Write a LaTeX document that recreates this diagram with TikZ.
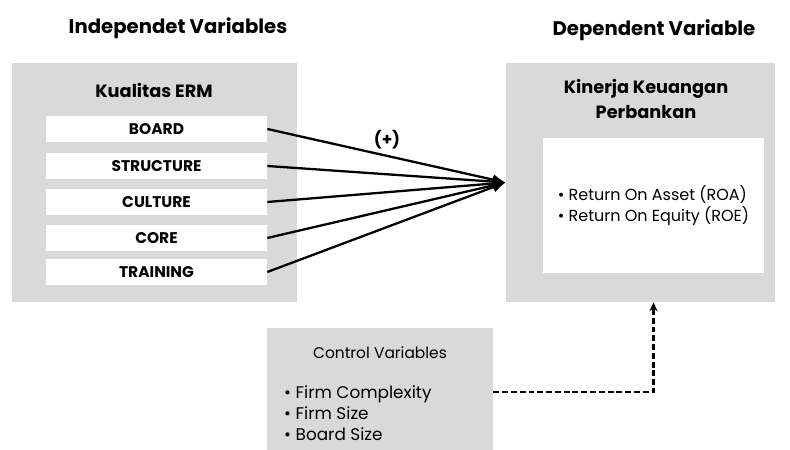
\documentclass[tikz,border=0pt]{standalone}
\usepackage{fontspec}
\setmainfont{Poppins}
\usetikzlibrary{arrows.meta,positioning}
\definecolor{boxgray}{HTML}{D9D9D9}
\tikzset{grp/.style={fill=boxgray,inner sep=0pt},
 itm/.style={fill=white,minimum width=44.2mm,minimum height=5.2mm,inner sep=0pt,font=\fontsize{8.8}{10}\selectfont\bfseries},
 ttl/.style={font=\fontsize{11.2}{13}\selectfont\bfseries,align=center},
 hd/.style={font=\fontsize{10.1}{14.5}\selectfont\bfseries,align=center},
 lst/.style={align=left,font=\fontsize{9.6}{11.9}\selectfont},
 flow/.style={-{Latex[length=2.6mm,width=2.2mm]},line width=1.3pt},
 ctl/.style={-{Stealth[length=1.8mm,width=1.6mm]},dash pattern=on 3.4pt off 1.6pt,line width=1.2pt}}
\begin{document}
\begin{tikzpicture}[x=0.2mm,y=-0.2mm]
\useasboundingbox (0,0) rectangle (790,450);
% titles
\node[ttl] (indt) at (178,28) {Independet Variables};
\node[ttl] (dept) at (654,30) {Dependent Variable};
% left group
\node[grp,minimum width=57mm,minimum height=47.8mm] (indep) at (154.5,182.5) {};
\node[hd] (erm) at (154,90) {Kualitas ERM};
\foreach \n/\t/\y in {brd/BOARD/129,str/STRUCTURE/166,cul/CULTURE/202,cor/CORE/238,trn/TRAINING/272}
 {\node[itm] (\n) at (156.5,\y) {\t};}
% right group
\node[grp,minimum width=53.8mm,minimum height=47.8mm] (dep) at (640.5,182.5) {};
\node[hd] (kin) at (646,99) {Kinerja Keuangan\\Perbankan};
\node[fill=white,minimum width=44.2mm,minimum height=27mm] (res) at (653.5,205.5) {};
\node[lst,font=\fontsize{9.1}{11.9}\selectfont] (roa) at (res) {\textbullet\ Return On Asset (ROA)\\\textbullet\ Return On Equity (ROE)};
% control group
\node[grp,minimum width=45.2mm,minimum height=24.4mm] (ctrl) at (380,389) {};
\node[lst,font=\fontsize{8.8}{10}\selectfont] (ctt) at (380,353) {Control Variables};
\node[lst,anchor=west] (cls) at (278,413) {\textbullet\ Firm Complexity\\\textbullet\ Firm Size\\\textbullet\ Board Size};
% links
\coordinate (hub) at (dep.west);
\foreach \n in {brd,str,cul,cor,trn}
 {\draw[flow] (\n.east) -- (hub);}
\node (pls) at (387,140) {\fontsize{9.5}{11}\selectfont\bfseries (+)};
\draw[ctl] (ctrl.east |- 0,392) -| (res.south |- dep.south);
\end{tikzpicture}
\end{document}
